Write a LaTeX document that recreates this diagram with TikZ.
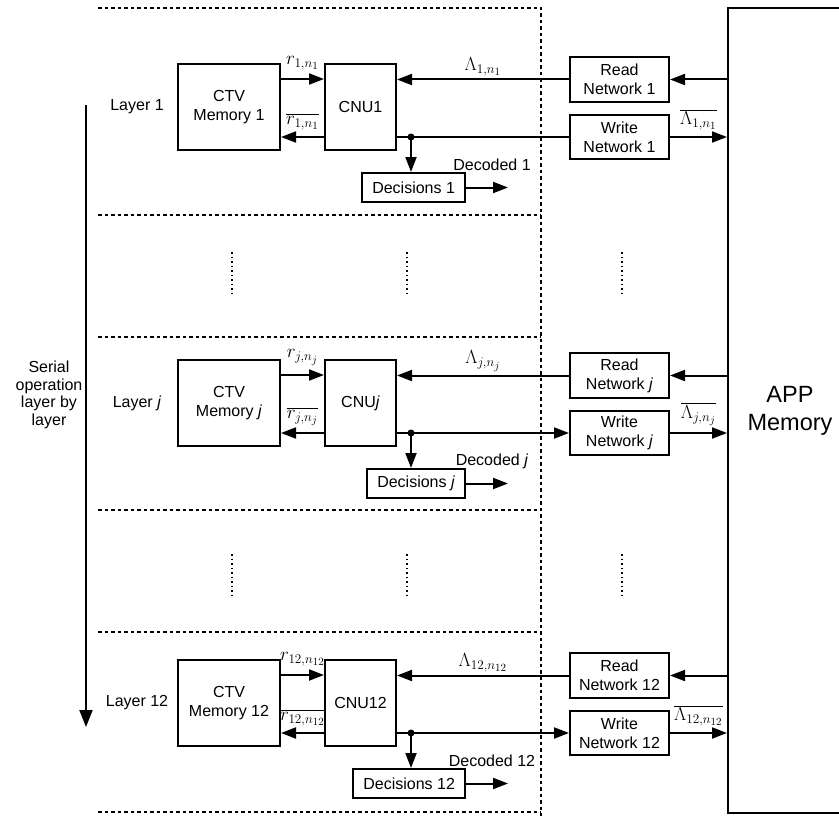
\documentclass[tikz,border=0pt]{standalone}
\usepackage{fontspec}
\setmainfont{Liberation Sans}
\usetikzlibrary{arrows.meta,calc}
\begin{document}
\begin{tikzpicture}[x=1pt,y=-1pt,
  every node/.style={font=\fontsize{16}{19}\selectfont},
  blk/.style={draw,line width=2pt,align=center,inner sep=0pt},
  arr/.style={line width=2pt,-{Triangle[length=15pt,width=11pt]}},
  ln/.style={line width=2pt},
  dsh/.style={line width=1.4pt,dash pattern=on 3.5pt off 3pt},
  dotsv/.style={line width=2pt,dash pattern=on 1.5pt off 3pt},
  mlab/.style={font=\fontsize{17.28}{20}\selectfont,inner sep=2.5pt,scale=1.1}
]
\useasboundingbox (0,0) rectangle (839,816);
% layer frame
\draw[dsh] (98,8) -- (541,8) -- (541,816);
\foreach \yy in {215,337,510,632,812} {\draw[dsh] (98,\yy) -- (541,\yy);}
% vertical dots
\foreach \x in {232,407,622} {
  \draw[dotsv] (\x,252) -- (\x,297);
  \draw[dotsv] (\x,554) -- (\x,599);
}
% APP memory
\node[draw,line width=2pt,minimum width=124pt,minimum height=805pt,inner sep=0pt,align=center,
  font=\fontsize{23.5}{28}\selectfont] (app) at (790,410.5) {APP\\Memory};
% serial arrow
\coordinate (sa) at (86,105);
\coordinate (sb) at (86,727);
\draw[line width=2pt,-{Triangle[length=17pt,width=13pt]}] (sa) -- (sb);
\node[align=center,font=\fontsize{16}{17.5}\selectfont] (serial) at (49,395) {Serial\\operation\\layer by\\layer};
% layers
\foreach \n/\oy/\lab/\s/\wa in {1/0/1/1/ln, j/296/\textit{j}/j/arr, 12/596/12/12/arr} {
  \node[blk,minimum width=102pt,minimum height=86pt] (ctv\n) at (229,{107+\oy}) {CTV\\Memory \lab};
  \node[blk,minimum width=71pt,minimum height=86pt] (cnu\n) at (360.5,{107+\oy}) {CNU\lab};
  \node[blk,minimum width=99pt,minimum height=45pt] (rd\n) at (619.5,{79.5+\oy}) {Read\\Network \lab};
  \node[blk,minimum width=99pt,minimum height=44pt] (wr\n) at (619.5,{137+\oy}) {Write\\Network \lab};
  \node[blk,minimum height=29pt,inner xsep=10pt,anchor=east] (dec\n) at (466,{187.5+\oy}) {Decisions \lab};
  \node (lay\n) at (137,{107+\oy}) {Layer \lab};
  \node (dcd\n) at (492,{165+\oy}) {Decoded \lab};
  \coordinate (ra\n) at (0,{79+\oy});
  \coordinate (rb\n) at (0,{137+\oy});
  \coordinate (dot\n) at (411,{137+\oy});
  \coordinate (out\n) at (508,{187.5+\oy});
  \draw[arr] (ctv\n.east|-ra\n) -- node[mlab,above,yshift=5pt]{$r_{\s,n_{\s}}$} (cnu\n.west|-ra\n);
  \draw[arr] (cnu\n.west|-rb\n) -- node[mlab,above,yshift=3pt]{$\overline{r_{\s,n_{\s}}}$} (ctv\n.east|-rb\n);
  \draw[arr] (rd\n.west) -- node[mlab,above]{$\Lambda_{\s,n_{\s}}$} (cnu\n.east|-rd\n.west);
  \draw[arr] (app.west|-rd\n.east) -- (rd\n.east);
  \draw[\wa] (cnu\n.east|-rb\n) -- (wr\n.west|-rb\n);
  \draw[arr] (wr\n.east) -- node[mlab,above,yshift=3pt]{$\overline{\Lambda_{\s,n_{\s}}}$} (app.west|-wr\n.east);
  \fill (dot\n) circle (3.5pt);
  \draw[arr] (dot\n) -- (dot\n|-dec\n.north);
  \draw[arr] (dec\n.east) -- (out\n);
}
\end{tikzpicture}
\end{document}
